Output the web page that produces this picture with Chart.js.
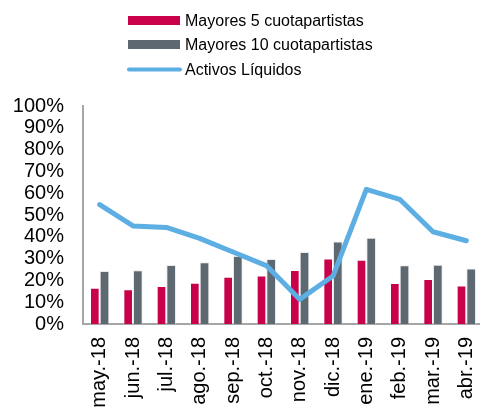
<!DOCTYPE html>
<html>
<head>
<meta charset="utf-8">
<script src="https://cdn.jsdelivr.net/npm/chart.js@4.4.1/dist/chart.umd.min.js"></script>
<style>
html,body{margin:0;padding:0;background:#fff;overflow:hidden;}
#wrap{position:relative;width:484px;height:412px;}
</style>
</head>
<body>
<div id="wrap"><canvas id="c" width="484" height="412"></canvas></div>
<script>
const categories = ["may.-18","jun.-18","jul.-18","ago.-18","sep.-18","oct.-18","nov.-18","dic.-18","ene.-19","feb.-19","mar.-19","abr.-19"];
const mayores5 = [16.6,15.9,17.4,18.9,21.7,22.3,24.8,30.0,29.5,18.8,20.6,17.7];
const mayores10 = [24.3,24.6,27.1,28.3,31.2,29.8,33.0,37.8,39.6,26.9,27.2,25.5];
const activosLiquidos = [54.8,45.0,44.3,39.3,33.0,26.8,11.3,22.0,61.8,57.2,42.3,38.2];
const seriesNames = ["Mayores 5 cuotapartistas","Mayores 10 cuotapartistas","Activos Líquidos"];
const yTicks = [0,10,20,30,40,50,60,70,80,90,100];

const RED = "#C9004A", GRAY = "#5E6870", BLUE = "#5DAEE3";
const FONT = "'Liberation Sans', Arial, sans-serif";

const legendPlugin = {
  id: 'customLegend',
  afterDraw(chart) {
    const ctx = chart.ctx;
    ctx.save();
    ctx.font = "16px " + FONT;
    ctx.textBaseline = "middle";
    const rows = [20.5, 44.5, 69.5];
    const ds = chart.data.datasets;
    for (let i = 0; i < 3; i++) {
      const y = rows[i];
      if (i < 2) {
        ctx.fillStyle = ds[i].backgroundColor;
        ctx.fillRect(128, y - 4.5, 52, 9);
      } else {
        ctx.strokeStyle = ds[i].borderColor;
        ctx.lineWidth = 4;
        ctx.lineCap = "round";
        ctx.beginPath();
        ctx.moveTo(129, y);
        ctx.lineTo(180, y);
        ctx.stroke();
      }
      ctx.fillStyle = "#000";
      ctx.fillText(ds[i].label, 185, y + 1);
    }
    ctx.restore();
  }
};

new Chart(document.getElementById('c'), {
  data: {
    labels: categories,
    datasets: [
      { type: 'bar', label: seriesNames[0], data: mayores5, backgroundColor: RED, borderColor: "rgba(255,255,255,0.35)", borderWidth: 1, order: 2 },
      { type: 'bar', label: seriesNames[1], data: mayores10, backgroundColor: GRAY, borderColor: "rgba(220,220,220,0.6)", borderWidth: 1, order: 2 },
      { type: 'line', label: seriesNames[2], data: activosLiquidos, borderColor: BLUE, backgroundColor: BLUE, borderWidth: 5, pointRadius: 0, tension: 0, borderCapStyle: 'round', borderJoinStyle: 'round', order: 0 }
    ]
  },
  options: {
    responsive: false,
    animation: false,
    events: [],
    layout: { padding: { top: 106, left: 0, right: 1, bottom: 0 } },
    datasets: { bar: { categoryPercentage: 0.58, barPercentage: 1 } },
    plugins: { legend: { display: false }, tooltip: { enabled: false }, title: { display: false } },
    scales: {
      x: {
        offset: true,
        grid: { display: false, drawTicks: false },
        border: { display: true, color: "#A6A6A6", width: 2 },
        ticks: { color: "#000", font: { family: FONT, size: 20 }, minRotation: 90, maxRotation: 90, padding: 13, autoSkip: false },
        afterFit(scale) { scale.height = 88; scale.paddingLeft = 0; scale.paddingRight = 0; }
      },
      y: {
        min: 0, max: 100,
        afterBuildTicks(scale) { scale.ticks = yTicks.map(v => ({ value: v })); },
        grid: { display: false, drawTicks: false },
        border: { display: true, color: "#A6A6A6", width: 2 },
        ticks: { color: "#000", font: { family: FONT, size: 20 }, padding: 19, autoSkip: false, callback: v => v + "%" },
        afterFit(scale) { scale.width = 83; scale.paddingTop = 0; scale.paddingBottom = 0; }
      }
    }
  },
  plugins: [legendPlugin]
});
</script>
</body>
</html>
